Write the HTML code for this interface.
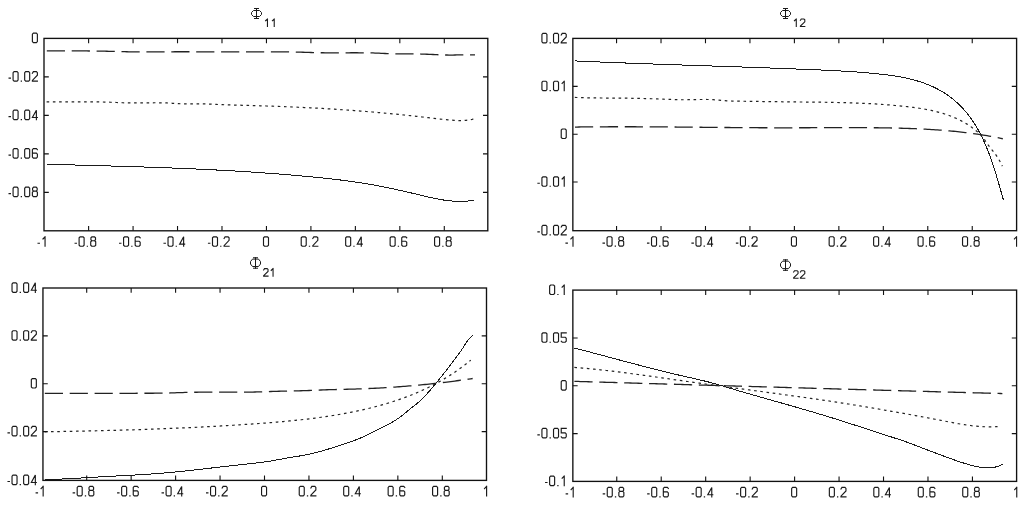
<!DOCTYPE html><html><head><meta charset="utf-8"><title>Phi plots</title><style>html,body{margin:0;padding:0;background:#fff;overflow:hidden;}svg{display:block;}</style></head><body>
<svg width="1024" height="508" viewBox="0 0 1024 508">
<rect x="0" y="0" width="1024" height="508" fill="#fff"/>
<path d="M46.8 50.91L48.8 50.92L50.8 50.92L52.81 50.92L54.81 50.92L56.81 50.92L58.82 50.92L60.82 50.91L62.82 50.91L64.83 50.91L66.83 50.91L68.83 50.91L70.84 50.91L72.84 50.91L74.84 50.91L76.84 50.92L78.85 50.92L80.85 50.93L82.85 50.94L84.85 50.95L86.85 50.96L88.85 50.98L90.86 50.99L92.86 51.02L94.86 51.04L96.85 51.07L98.85 51.1L100.85 51.13L102.85 51.17L104.85 51.21L106.84 51.26L108.84 51.31L110.84 51.36L112.83 51.41L114.83 51.46L116.82 51.52L118.82 51.57L120.82 51.62L122.81 51.67L124.81 51.72L126.81 51.76L128.8 51.8L130.8 51.83L132.8 51.86L134.8 51.88L136.8 51.89L138.8 51.9L140.81 51.9L142.81 51.9L144.81 51.89L146.82 51.89L148.82 51.88L150.82 51.87L152.83 51.86L154.83 51.84L156.84 51.83L158.84 51.82L160.84 51.81L162.85 51.81L164.85 51.8L166.85 51.79L168.86 51.79L170.86 51.78L172.86 51.78L174.87 51.77L176.87 51.77L178.87 51.77L180.88 51.77L182.88 51.77L184.88 51.77L186.88 51.77L188.89 51.77L190.89 51.77L192.89 51.77L194.9 51.78L196.9 51.78L198.9 51.78L200.9 51.79L202.9 51.79L204.91 51.79L206.91 51.8L208.91 51.8L210.91 51.81L212.92 51.81L214.92 51.82L216.92 51.83L218.92 51.83L220.93 51.84L222.93 51.84L224.93 51.85L226.93 51.86L228.93 51.86L230.94 51.87L232.94 51.87L234.94 51.88L236.94 51.89L238.95 51.89L240.95 51.9L242.95 51.9L244.95 51.91L246.96 51.91L248.96 51.92L250.96 51.92L252.96 51.93L254.97 51.93L256.97 51.93L258.97 51.94L260.98 51.94L262.98 51.94L264.98 51.94L266.99 51.94L268.99 51.94L270.99 51.94L273 51.93L275 51.92L277 51.91L279.01 51.9L281.01 51.89L283.01 51.89L285.02 51.88L287.02 51.89L289.02 51.91L291.02 51.94L293.02 51.98L295.02 52.02L297.02 52.08L299.02 52.13L301.01 52.2L303.01 52.26L305.01 52.33L307 52.4L309 52.46L311 52.52L313 52.58L315 52.63L316.99 52.68L318.99 52.72L321 52.75L323 52.77L325 52.79L327 52.81L329 52.82L331 52.82L333.01 52.82L335.01 52.82L337.01 52.82L339.02 52.81L341.02 52.81L343.03 52.8L345.03 52.79L347.03 52.78L349.04 52.78L351.04 52.77L353.04 52.77L355.05 52.77L357.05 52.77L359.05 52.78L361.06 52.79L363.06 52.8L365.06 52.82L367.06 52.85L369.06 52.88L371.06 52.92L373.05 52.97L375.05 53.04L377.05 53.11L379.04 53.21L381.03 53.31L383.02 53.41L385.02 53.5L387.01 53.59L389 53.67L391 53.75L393 53.81L394.99 53.85L396.99 53.89L398.99 53.91L401 53.93L403 53.93L405 53.93L407.01 53.93L409.01 53.93L411.02 53.92L413.02 53.93L415.02 53.94L417.02 53.96L419.02 53.99L421.02 54.03L423.02 54.09L425.01 54.16L427.01 54.24L429 54.33L430.99 54.42L432.99 54.51L434.98 54.61L436.97 54.7L438.97 54.78L440.96 54.86L442.96 54.92L444.95 54.98L446.95 55.02L448.95 55.04L450.95 55.04L452.96 55.03L454.96 55L456.97 54.97L458.98 54.93L460.98 54.89L462.99 54.85L464.99 54.83L467 54.81L469 54.82L471 54.84L473 54.88L474.99 54.96" fill="none" stroke="#222" stroke-width="1.3" stroke-dasharray="18.2 6.7"/>
<path d="M46.61 101.8L48.61 101.83L50.61 101.86L52.61 101.88L54.61 101.9L56.61 101.91L58.61 101.91L60.62 101.91L62.62 101.91L64.63 101.9L66.63 101.89L68.64 101.88L70.65 101.87L72.65 101.85L74.66 101.84L76.67 101.82L78.67 101.81L80.68 101.8L82.69 101.79L84.69 101.79L86.7 101.79L88.7 101.79L90.7 101.8L92.7 101.81L94.7 101.83L96.7 101.86L98.7 101.89L100.69 101.93L102.68 101.98L104.67 102.04L106.66 102.11L108.65 102.19L110.64 102.27L112.62 102.35L114.61 102.43L116.6 102.51L118.58 102.59L120.57 102.67L122.56 102.74L124.55 102.8L126.54 102.85L128.54 102.89L130.54 102.92L132.54 102.93L134.54 102.94L136.55 102.93L138.56 102.92L140.56 102.9L142.57 102.88L144.58 102.86L146.59 102.84L148.6 102.81L150.61 102.79L152.62 102.78L154.63 102.77L156.63 102.77L158.63 102.78L160.63 102.8L162.63 102.84L164.62 102.89L166.61 102.96L168.6 103.05L170.58 103.15L172.55 103.28L174.52 103.41L176.5 103.54L178.47 103.66L180.46 103.76L182.44 103.84L184.44 103.89L186.43 103.92L188.43 103.93L190.44 103.93L192.45 103.93L194.45 103.91L196.46 103.9L198.47 103.89L200.47 103.89L202.48 103.91L204.48 103.93L206.47 103.98L208.46 104.04L210.45 104.12L212.43 104.22L214.42 104.31L216.4 104.41L218.38 104.51L220.36 104.6L222.35 104.68L224.33 104.76L226.32 104.82L228.31 104.88L230.3 104.94L232.3 105L234.29 105.05L236.29 105.11L238.29 105.17L240.29 105.22L242.29 105.28L244.29 105.34L246.29 105.39L248.3 105.45L250.3 105.51L252.31 105.57L254.31 105.63L256.32 105.69L258.32 105.75L260.33 105.81L262.33 105.88L264.33 105.94L266.34 106.01L268.34 106.07L270.34 106.14L272.35 106.21L274.35 106.28L276.35 106.36L278.36 106.43L280.36 106.5L282.36 106.58L284.36 106.66L286.37 106.74L288.37 106.82L290.37 106.9L292.37 106.98L294.37 107.07L296.38 107.16L298.38 107.25L300.38 107.34L302.38 107.43L304.38 107.53L306.38 107.62L308.38 107.72L310.38 107.82L312.39 107.93L314.39 108.03L316.39 108.14L318.39 108.25L320.39 108.36L322.39 108.47L324.39 108.59L326.39 108.71L328.39 108.83L330.39 108.95L332.39 109.08L334.39 109.2L336.39 109.33L338.39 109.46L340.39 109.59L342.39 109.73L344.39 109.87L346.39 110.01L348.39 110.15L350.38 110.29L352.38 110.44L354.38 110.59L356.38 110.74L358.38 110.89L360.38 111.04L362.37 111.2L364.37 111.36L366.37 111.52L368.37 111.68L370.36 111.85L372.36 112.01L374.36 112.18L376.35 112.36L378.35 112.53L380.35 112.71L382.34 112.89L384.34 113.07L386.33 113.25L388.33 113.44L390.32 113.63L392.32 113.82L394.31 114.01L396.31 114.21L398.3 114.4L400.29 114.6L402.29 114.81L404.28 115.01L406.27 115.22L408.27 115.43L410.26 115.65L412.25 115.86L414.24 116.08L416.24 116.31L418.23 116.53L420.22 116.76L422.21 116.99L424.2 117.22L426.19 117.45L428.18 117.69L430.18 117.92L432.17 118.15L434.16 118.38L436.15 118.6L438.14 118.82L440.13 119.04L442.12 119.25L444.12 119.46L446.11 119.65L448.1 119.84L450.1 120.02L452.09 120.19L454.09 120.34L456.08 120.45L458.07 120.53L460.07 120.56L462.06 120.54L464.06 120.46L466.05 120.3L468.04 120.07L470.03 119.75L472.02 119.33L474 118.82" fill="none" stroke="#222" stroke-width="1.2" stroke-dasharray="2.6 3.65"/>
<path d="M46.7 164.21L48.7 164.27L50.7 164.33L52.7 164.38L54.7 164.44L56.71 164.5L58.71 164.55L60.71 164.61L62.71 164.67L64.71 164.72L66.71 164.78L68.71 164.83L70.71 164.89L72.71 164.94L74.72 165L76.72 165.05L78.72 165.11L80.72 165.16L82.72 165.22L84.72 165.27L86.72 165.33L88.73 165.38L90.73 165.44L92.73 165.49L94.73 165.55L96.73 165.61L98.73 165.66L100.74 165.72L102.74 165.77L104.74 165.83L106.74 165.89L108.74 165.94L110.74 166L112.75 166.06L114.75 166.12L116.75 166.18L118.75 166.23L120.75 166.29L122.76 166.35L124.76 166.41L126.76 166.47L128.76 166.54L130.76 166.6L132.76 166.66L134.77 166.72L136.77 166.78L138.77 166.85L140.77 166.91L142.77 166.98L144.78 167.04L146.78 167.11L148.78 167.18L150.78 167.24L152.78 167.31L154.78 167.38L156.79 167.45L158.79 167.52L160.79 167.6L162.79 167.67L164.79 167.74L166.79 167.82L168.79 167.89L170.8 167.97L172.8 168.04L174.8 168.12L176.8 168.2L178.8 168.28L180.8 168.36L182.8 168.44L184.8 168.53L186.8 168.61L188.8 168.7L190.81 168.78L192.81 168.87L194.81 168.96L196.81 169.05L198.81 169.14L200.81 169.23L202.81 169.33L204.81 169.42L206.81 169.52L208.81 169.61L210.81 169.71L212.81 169.81L214.81 169.91L216.81 170.02L218.81 170.12L220.81 170.23L222.81 170.33L224.81 170.44L226.81 170.55L228.81 170.67L230.81 170.78L232.8 170.89L234.8 171.01L236.8 171.13L238.8 171.25L240.8 171.37L242.8 171.49L244.8 171.62L246.8 171.74L248.79 171.87L250.79 172L252.79 172.13L254.79 172.27L256.79 172.4L258.78 172.54L260.78 172.68L262.78 172.82L264.78 172.96L266.77 173.1L268.77 173.25L270.77 173.4L272.76 173.55L274.76 173.7L276.76 173.86L278.75 174.01L280.75 174.17L282.74 174.33L284.74 174.49L286.74 174.66L288.73 174.82L290.73 174.99L292.72 175.16L294.72 175.33L296.71 175.51L298.71 175.68L300.7 175.86L302.7 176.04L304.69 176.22L306.69 176.41L308.68 176.6L310.68 176.79L312.67 176.98L314.66 177.17L316.66 177.37L318.65 177.57L320.64 177.77L322.63 177.98L324.63 178.19L326.62 178.4L328.61 178.62L330.6 178.84L332.59 179.06L334.58 179.29L336.57 179.53L338.55 179.77L340.54 180.01L342.53 180.26L344.51 180.52L346.5 180.78L348.48 181.04L350.47 181.32L352.45 181.59L354.43 181.88L356.41 182.17L358.39 182.47L360.37 182.77L362.34 183.08L364.32 183.4L366.29 183.73L368.27 184.06L370.24 184.4L372.21 184.75L374.18 185.11L376.15 185.47L378.12 185.84L380.08 186.22L382.05 186.6L384.01 186.99L385.97 187.39L387.94 187.79L389.9 188.2L391.86 188.61L393.82 189.03L395.77 189.46L397.73 189.88L399.69 190.32L401.65 190.75L403.6 191.2L405.55 191.64L407.51 192.09L409.46 192.54L411.41 193L413.37 193.46L415.32 193.92L417.27 194.39L419.22 194.86L421.17 195.32L423.12 195.79L425.07 196.25L427.02 196.71L428.97 197.16L430.92 197.6L432.87 198.02L434.82 198.43L436.78 198.82L438.73 199.2L440.69 199.55L442.64 199.87L444.6 200.18L446.56 200.45L448.53 200.69L450.49 200.9L452.46 201.08L454.43 201.22L456.4 201.32L458.38 201.38L460.36 201.39L462.34 201.36L464.33 201.28L466.32 201.16L468.31 200.97L470.31 200.74L472.31 200.45L474.31 200.1" fill="none" stroke="#1a1a1a" stroke-width="1.0" shape-rendering="crispEdges"/>
<rect x="44" y="38.4" width="443.8" height="192.4" fill="none" stroke="#111" stroke-width="1.35"/>
<path d="M88.61 230.8v-4.8M88.61 38.4v4.8M133.07 230.8v-4.8M133.07 38.4v4.8M177.53 230.8v-4.8M177.53 38.4v4.8M221.99 230.8v-4.8M221.99 38.4v4.8M266.45 230.8v-4.8M266.45 38.4v4.8M310.91 230.8v-4.8M310.91 38.4v4.8M355.37 230.8v-4.8M355.37 38.4v4.8M399.83 230.8v-4.8M399.83 38.4v4.8M444.29 230.8v-4.8M444.29 38.4v4.8M44 76.84h4.8M487.8 76.84h-4.8M44 115.36h4.8M487.8 115.36h-4.8M44 153.87h4.8M487.8 153.87h-4.8M44 192.39h4.8M487.8 192.39h-4.8" stroke="#111" stroke-width="1.1" fill="none"/>
<path d="M256.5 8V19M254 8.5H259M254 18.5H259M253.5 10.5L259.5 10.5L261.5 12.5L261.5 14.5L259.5 16.5L253.5 16.5L251.5 14.5L251.5 12.5Z" fill="none" stroke="#1a1a1a" stroke-width="1"/>
<path d="M267.45 19V26.56M267.45 19L265.6 20.76M274.23 19V26.56M274.23 19L272.38 20.76" fill="none" stroke="#1a1a1a" stroke-width="1.09" stroke-linecap="square"/>
<path d="M574.54 60.9L576.54 60.99L578.53 61.08L580.53 61.17L582.53 61.26L584.52 61.34L586.52 61.43L588.52 61.52L590.51 61.6L592.51 61.69L594.51 61.77L596.51 61.85L598.5 61.94L600.5 62.02L602.5 62.1L604.5 62.18L606.5 62.26L608.5 62.34L610.49 62.42L612.49 62.5L614.49 62.58L616.49 62.66L618.49 62.74L620.49 62.81L622.49 62.89L624.49 62.97L626.49 63.04L628.49 63.12L630.49 63.19L632.49 63.27L634.49 63.34L636.49 63.41L638.49 63.49L640.49 63.56L642.49 63.63L644.5 63.7L646.5 63.78L648.5 63.85L650.5 63.92L652.5 63.99L654.5 64.06L656.5 64.13L658.5 64.2L660.51 64.27L662.51 64.34L664.51 64.41L666.51 64.48L668.51 64.55L670.51 64.62L672.52 64.68L674.52 64.75L676.52 64.82L678.52 64.89L680.52 64.96L682.53 65.02L684.53 65.09L686.53 65.16L688.53 65.23L690.54 65.29L692.54 65.36L694.54 65.43L696.54 65.49L698.54 65.56L700.55 65.63L702.55 65.69L704.55 65.76L706.55 65.83L708.56 65.89L710.56 65.96L712.56 66.03L714.56 66.1L716.56 66.16L718.57 66.23L720.57 66.3L722.57 66.36L724.57 66.43L726.57 66.5L728.58 66.57L730.58 66.63L732.58 66.7L734.58 66.77L736.58 66.84L738.58 66.91L740.59 66.98L742.59 67.04L744.59 67.11L746.59 67.18L748.59 67.25L750.59 67.32L752.59 67.39L754.59 67.46L756.59 67.53L758.6 67.6L760.6 67.68L762.6 67.75L764.6 67.82L766.6 67.89L768.6 67.96L770.6 68.04L772.6 68.11L774.6 68.18L776.6 68.26L778.6 68.33L780.59 68.41L782.59 68.48L784.59 68.56L786.59 68.63L788.59 68.71L790.59 68.79L792.59 68.87L794.59 68.94L796.58 69.02L798.58 69.1L800.58 69.18L802.58 69.26L804.57 69.34L806.57 69.42L808.57 69.51L810.57 69.59L812.56 69.67L814.56 69.76L816.55 69.84L818.55 69.93L820.55 70.01L822.54 70.1L824.54 70.19L826.53 70.28L828.53 70.37L830.52 70.47L832.52 70.56L834.52 70.66L836.51 70.77L838.51 70.87L840.5 70.98L842.5 71.09L844.5 71.21L846.49 71.33L848.49 71.45L850.49 71.58L852.49 71.71L854.49 71.84L856.49 71.99L858.49 72.13L860.49 72.28L862.49 72.44L864.49 72.6L866.49 72.77L868.49 72.95L870.49 73.13L872.5 73.31L874.5 73.51L876.51 73.71L878.51 73.92L880.52 74.13L882.53 74.36L884.53 74.6L886.53 74.85L888.53 75.11L890.53 75.38L892.53 75.67L894.52 75.97L896.51 76.29L898.49 76.63L900.47 76.98L902.44 77.35L904.4 77.75L906.36 78.16L908.31 78.59L910.25 79.05L912.19 79.53L914.11 80.04L916.03 80.57L917.93 81.13L919.83 81.72L921.71 82.33L923.58 82.98L925.44 83.65L927.29 84.35L929.12 85.09L930.94 85.86L932.74 86.67L934.53 87.51L936.31 88.38L938.07 89.3L939.81 90.25L941.53 91.24L943.24 92.27L944.93 93.34L946.6 94.44L948.24 95.59L949.86 96.77L951.46 97.98L953.04 99.23L954.58 100.52L956.1 101.84L957.59 103.19L959.05 104.57L960.48 105.98L961.88 107.43L963.25 108.9L964.59 110.4L965.89 111.93L967.17 113.48L968.41 115.05L969.63 116.64L970.81 118.26L971.96 119.9L973.08 121.55L974.18 123.22L975.24 124.91L976.28 126.62L977.3 128.35L978.28 130.08L979.24 131.84L980.18 133.6L981.09 135.38L981.98 137.18L982.85 138.98L983.7 140.8L984.52 142.62L985.33 144.45L986.11 146.29L986.88 148.14L987.63 150L988.36 151.86L989.07 153.73L989.77 155.6L990.46 157.48L991.13 159.37L991.78 161.26L992.43 163.15L993.06 165.05L993.68 166.96L994.29 168.86L994.89 170.77L995.49 172.69L996.07 174.6L996.65 176.52L997.22 178.44L997.79 180.36L998.35 182.28L998.9 184.2L999.46 186.13L1000.01 188.05L1000.56 189.98L1001.11 191.9L1001.66 193.82L1002.2 195.74L1002.76 197.66L1003.31 199.58" fill="none" stroke="#1a1a1a" stroke-width="1.0" shape-rendering="crispEdges"/>
<path d="M574.82 97.43L576.82 97.5L578.82 97.56L580.82 97.62L582.82 97.67L584.83 97.72L586.84 97.77L588.84 97.81L590.85 97.84L592.86 97.88L594.87 97.91L596.88 97.93L598.89 97.96L600.9 97.98L602.91 98L604.92 98.02L606.93 98.03L608.94 98.05L610.95 98.06L612.96 98.08L614.98 98.1L616.99 98.11L619 98.13L621.01 98.14L623.02 98.16L625.02 98.18L627.03 98.21L629.04 98.23L631.05 98.26L633.05 98.29L635.05 98.33L637.06 98.36L639.06 98.41L641.06 98.45L643.06 98.5L645.06 98.55L647.05 98.61L649.05 98.67L651.05 98.73L653.04 98.79L655.03 98.86L657.02 98.93L659.01 99.01L661 99.08L662.99 99.16L664.98 99.24L666.96 99.32L668.95 99.4L670.94 99.47L672.93 99.54L674.92 99.6L676.91 99.65L678.9 99.7L680.9 99.73L682.9 99.75L684.91 99.75L686.92 99.74L688.93 99.72L690.95 99.68L692.96 99.64L694.98 99.6L697 99.55L699.02 99.52L701.04 99.49L703.05 99.47L705.06 99.47L707.07 99.48L709.07 99.52L711.07 99.59L713.05 99.68L715.03 99.81L717.01 99.97L718.98 100.15L720.95 100.33L722.91 100.51L724.89 100.67L726.87 100.8L728.86 100.91L730.86 100.98L732.86 101.04L734.86 101.09L736.87 101.13L738.88 101.16L740.89 101.19L742.9 101.22L744.91 101.26L746.91 101.29L748.92 101.32L750.93 101.35L752.94 101.38L754.95 101.41L756.96 101.44L758.97 101.47L760.98 101.5L762.99 101.53L765 101.56L767.01 101.59L769.02 101.62L771.03 101.64L773.04 101.67L775.05 101.7L777.06 101.72L779.07 101.75L781.08 101.77L783.09 101.8L785.1 101.82L787.11 101.84L789.12 101.86L791.13 101.89L793.14 101.91L795.15 101.93L797.15 101.95L799.16 101.97L801.17 101.99L803.18 102.01L805.19 102.03L807.2 102.05L809.2 102.07L811.21 102.09L813.22 102.11L815.22 102.14L817.23 102.16L819.24 102.19L821.25 102.21L823.25 102.24L825.26 102.27L827.26 102.3L829.27 102.34L831.28 102.37L833.28 102.41L835.29 102.45L837.29 102.49L839.3 102.54L841.3 102.59L843.31 102.64L845.32 102.69L847.32 102.75L849.33 102.81L851.33 102.87L853.33 102.94L855.34 103.01L857.34 103.09L859.35 103.17L861.35 103.25L863.36 103.34L865.36 103.43L867.37 103.53L869.37 103.63L871.37 103.74L873.38 103.85L875.38 103.97L877.39 104.1L879.39 104.23L881.39 104.36L883.4 104.5L885.4 104.65L887.41 104.8L889.41 104.96L891.41 105.13L893.42 105.3L895.42 105.48L897.42 105.66L899.43 105.86L901.43 106.06L903.43 106.27L905.44 106.48L907.44 106.7L909.44 106.94L911.44 107.18L913.44 107.43L915.44 107.7L917.44 107.98L919.43 108.28L921.41 108.59L923.4 108.92L925.37 109.27L927.35 109.63L929.31 110.02L931.27 110.43L933.23 110.86L935.17 111.32L937.11 111.8L939.04 112.31L940.96 112.84L942.87 113.41L944.77 114L946.66 114.63L948.54 115.28L950.41 115.97L952.26 116.7L954.1 117.46L955.93 118.26L957.75 119.09L959.55 119.97L961.34 120.88L963.11 121.84L964.86 122.83L966.6 123.88L968.32 124.96L970.01 126.09L971.68 127.26L973.31 128.47L974.9 129.71L976.44 131L977.93 132.33L979.37 133.69L980.75 135.09L982.06 136.53L983.31 138.03L984.49 139.6L985.6 141.23L986.7 142.9L987.85 144.54L989.05 146.15L990.28 147.73L991.54 149.31L992.8 150.88L994.04 152.46L995.26 154.05L996.43 155.67L997.54 157.33L998.6 159.02L999.61 160.74L1000.57 162.5L1001.49 164.29L1002.36 166.13" fill="none" stroke="#222" stroke-width="1.2" stroke-dasharray="2.6 3.65"/>
<path d="M574.97 127.05L576.98 127.03L578.99 127L580.99 126.97L583 126.95L585.01 126.93L587.02 126.91L589.02 126.89L591.03 126.87L593.04 126.86L595.05 126.84L597.05 126.83L599.06 126.81L601.06 126.8L603.07 126.79L605.08 126.78L607.08 126.78L609.09 126.77L611.09 126.76L613.1 126.76L615.1 126.75L617.11 126.75L619.11 126.75L621.11 126.75L623.12 126.75L625.12 126.75L627.13 126.75L629.13 126.76L631.13 126.76L633.14 126.77L635.14 126.77L637.14 126.78L639.15 126.79L641.15 126.79L643.15 126.8L645.16 126.81L647.16 126.82L649.16 126.83L651.16 126.84L653.17 126.86L655.17 126.87L657.17 126.88L659.17 126.89L661.18 126.91L663.18 126.92L665.18 126.94L667.18 126.95L669.18 126.97L671.18 126.99L673.19 127L675.19 127.02L677.19 127.04L679.19 127.05L681.19 127.07L683.19 127.09L685.2 127.11L687.2 127.13L689.2 127.15L691.2 127.17L693.2 127.18L695.2 127.2L697.2 127.22L699.2 127.24L701.21 127.26L703.21 127.28L705.21 127.3L707.21 127.32L709.21 127.34L711.21 127.36L713.21 127.38L715.21 127.4L717.22 127.41L719.22 127.43L721.22 127.45L723.22 127.47L725.22 127.49L727.22 127.51L729.22 127.52L731.23 127.54L733.23 127.56L735.23 127.57L737.23 127.59L739.23 127.6L741.23 127.62L743.24 127.63L745.24 127.65L747.24 127.66L749.24 127.67L751.24 127.69L753.25 127.7L755.25 127.71L757.25 127.72L759.25 127.73L761.26 127.74L763.26 127.75L765.26 127.76L767.26 127.76L769.27 127.77L771.27 127.78L773.27 127.78L775.28 127.79L777.28 127.79L779.29 127.79L781.29 127.79L783.29 127.79L785.3 127.79L787.3 127.79L789.31 127.79L791.31 127.78L793.32 127.78L795.32 127.78L797.32 127.77L799.33 127.76L801.34 127.76L803.34 127.75L805.35 127.74L807.35 127.73L809.36 127.73L811.36 127.72L813.37 127.71L815.37 127.7L817.38 127.69L819.39 127.68L821.39 127.68L823.4 127.67L825.4 127.66L827.41 127.65L829.41 127.64L831.42 127.64L833.43 127.63L835.43 127.63L837.44 127.62L839.44 127.62L841.45 127.61L843.46 127.61L845.46 127.61L847.47 127.61L849.47 127.61L851.48 127.61L853.48 127.62L855.49 127.62L857.49 127.63L859.5 127.63L861.51 127.64L863.51 127.65L865.52 127.66L867.52 127.68L869.52 127.69L871.53 127.71L873.53 127.73L875.54 127.75L877.54 127.77L879.55 127.8L881.55 127.83L883.55 127.86L885.56 127.89L887.56 127.92L889.56 127.96L891.57 128L893.57 128.04L895.57 128.09L897.57 128.13L899.58 128.18L901.58 128.24L903.58 128.29L905.58 128.36L907.58 128.42L909.58 128.49L911.58 128.56L913.58 128.64L915.58 128.72L917.58 128.8L919.58 128.89L921.57 128.99L923.57 129.09L925.57 129.19L927.56 129.3L929.56 129.42L931.55 129.54L933.55 129.66L935.54 129.79L937.54 129.93L939.53 130.07L941.52 130.22L943.51 130.38L945.5 130.54L947.49 130.71L949.48 130.89L951.47 131.07L953.45 131.26L955.44 131.46L957.43 131.66L959.41 131.87L961.39 132.09L963.38 132.32L965.36 132.56L967.34 132.8L969.32 133.05L971.3 133.31L973.28 133.58L975.25 133.86L977.23 134.15L979.2 134.44L981.18 134.75L983.15 135.06L985.12 135.38L987.09 135.72L989.06 136.06L991.03 136.41L992.99 136.77L994.96 137.15L996.92 137.53L998.89 137.92L1000.85 138.33L1002.81 138.74" fill="none" stroke="#222" stroke-width="1.3" stroke-dasharray="18.2 6.7"/>
<rect x="572.85" y="38.4" width="443.75" height="192.3" fill="none" stroke="#111" stroke-width="1.35"/>
<path d="M616.56 230.7v-4.8M616.56 38.4v4.8M661.02 230.7v-4.8M661.02 38.4v4.8M705.48 230.7v-4.8M705.48 38.4v4.8M749.94 230.7v-4.8M749.94 38.4v4.8M794.4 230.7v-4.8M794.4 38.4v4.8M838.86 230.7v-4.8M838.86 38.4v4.8M883.32 230.7v-4.8M883.32 38.4v4.8M927.78 230.7v-4.8M927.78 38.4v4.8M972.24 230.7v-4.8M972.24 38.4v4.8M572.85 86.4h4.8M1016.6 86.4h-4.8M572.85 134.2h4.8M1016.6 134.2h-4.8M572.85 182h4.8M1016.6 182h-4.8" stroke="#111" stroke-width="1.1" fill="none"/>
<path d="M785.5 8V19M783 8.5H788M783 18.5H788M782.5 10.5L788.5 10.5L790.5 12.5L790.5 14.5L788.5 16.5L782.5 16.5L780.5 14.5L780.5 12.5Z" fill="none" stroke="#1a1a1a" stroke-width="1"/>
<path d="M796.28 19V26.56M796.28 19L794.43 20.76M800.41 20.34L801.29 19H803.93L804.81 19.84V21.86L800.41 26.06V26.56H804.81" fill="none" stroke="#1a1a1a" stroke-width="1.09" stroke-linecap="square"/>
<path d="M44.8 393.32L46.81 393.31L48.81 393.31L50.81 393.31L52.81 393.3L54.82 393.3L56.82 393.3L58.82 393.3L60.83 393.29L62.83 393.29L64.83 393.29L66.84 393.29L68.84 393.29L70.84 393.29L72.85 393.29L74.85 393.29L76.85 393.29L78.86 393.29L80.86 393.29L82.86 393.29L84.87 393.29L86.87 393.29L88.87 393.29L90.88 393.29L92.88 393.29L94.89 393.29L96.89 393.29L98.89 393.29L100.9 393.29L102.9 393.3L104.91 393.3L106.91 393.3L108.91 393.3L110.92 393.3L112.92 393.29L114.93 393.29L116.93 393.29L118.93 393.29L120.94 393.29L122.94 393.29L124.94 393.29L126.95 393.29L128.95 393.29L130.95 393.28L132.96 393.28L134.96 393.28L136.96 393.27L138.97 393.27L140.97 393.27L142.97 393.26L144.98 393.26L146.98 393.25L148.98 393.25L150.99 393.24L152.99 393.23L154.99 393.22L156.99 393.21L158.99 393.19L160.99 393.17L162.99 393.13L164.98 393.1L166.97 393.05L168.96 392.99L170.95 392.92L172.94 392.85L174.93 392.78L176.92 392.72L178.9 392.65L180.89 392.59L182.88 392.53L184.88 392.47L186.87 392.42L188.86 392.38L190.86 392.33L192.85 392.29L194.85 392.26L196.84 392.23L198.84 392.2L200.84 392.18L202.84 392.17L204.85 392.15L206.85 392.15L208.85 392.14L210.86 392.14L212.86 392.14L214.87 392.14L216.88 392.15L218.88 392.16L220.89 392.16L222.9 392.17L224.9 392.18L226.91 392.18L228.91 392.19L230.92 392.19L232.92 392.19L234.93 392.19L236.93 392.19L238.93 392.18L240.93 392.17L242.94 392.16L244.94 392.14L246.94 392.12L248.94 392.1L250.94 392.07L252.95 392.03L254.95 391.99L256.95 391.94L258.95 391.89L260.95 391.83L262.96 391.77L264.96 391.71L266.96 391.64L268.96 391.58L270.97 391.51L272.97 391.44L274.97 391.38L276.97 391.31L278.98 391.25L280.98 391.19L282.98 391.14L284.98 391.08L286.99 391.04L288.99 390.99L290.99 390.95L292.99 390.91L294.99 390.87L296.99 390.83L299 390.79L301 390.75L303 390.7L305 390.65L307 390.59L309 390.52L311 390.45L312.99 390.37L314.99 390.28L316.99 390.19L318.99 390.1L320.99 390L322.98 389.91L324.98 389.83L326.98 389.76L328.98 389.69L330.99 389.63L332.99 389.58L334.99 389.54L336.99 389.49L339 389.45L341 389.4L343 389.36L345 389.31L347.01 389.26L349.01 389.21L351.01 389.15L353.01 389.1L355.02 389.04L357.02 388.97L359.02 388.9L361.02 388.83L363.02 388.76L365.02 388.68L367.03 388.6L369.03 388.51L371.03 388.42L373.03 388.33L375.03 388.23L377.03 388.13L379.03 388.03L381.03 387.92L383.03 387.8L385.03 387.68L387.03 387.56L389.03 387.44L391.03 387.31L393.03 387.17L395.03 387.04L397.03 386.89L399.03 386.75L401.03 386.6L403.02 386.44L405.02 386.29L407.02 386.12L409.02 385.96L411.01 385.79L413.01 385.61L415 385.44L417 385.25L418.99 385.07L420.99 384.88L422.98 384.68L424.98 384.49L426.97 384.28L428.96 384.08L430.96 383.87L432.95 383.65L434.94 383.43L436.93 383.21L438.92 382.98L440.91 382.75L442.9 382.52L444.89 382.28L446.87 382.04L448.86 381.79L450.85 381.54L452.84 381.28L454.82 381.03L456.81 380.76L458.79 380.49L460.77 380.22L462.76 379.95L464.74 379.67L466.72 379.38L468.7 379.1L470.68 378.8L472.66 378.51" fill="none" stroke="#222" stroke-width="1.3" stroke-dasharray="18.2 6.7"/>
<path d="M44.75 431.8L46.77 431.77L48.78 431.73L50.79 431.7L52.81 431.66L54.82 431.63L56.83 431.59L58.84 431.56L60.85 431.52L62.86 431.48L64.87 431.44L66.88 431.41L68.89 431.37L70.9 431.33L72.9 431.29L74.91 431.25L76.92 431.21L78.93 431.17L80.93 431.12L82.94 431.08L84.95 431.04L86.95 430.99L88.96 430.95L90.96 430.9L92.97 430.86L94.97 430.81L96.98 430.77L98.98 430.72L100.98 430.67L102.99 430.62L104.99 430.57L107 430.52L109 430.47L111 430.41L113 430.36L115.01 430.31L117.01 430.25L119.01 430.2L121.01 430.14L123.02 430.08L125.02 430.03L127.02 429.97L129.02 429.91L131.02 429.85L133.02 429.78L135.02 429.72L137.02 429.66L139.02 429.59L141.02 429.53L143.03 429.46L145.03 429.39L147.03 429.32L149.03 429.25L151.03 429.18L153.03 429.11L155.03 429.04L157.03 428.97L159.03 428.89L161.03 428.81L163.03 428.74L165.03 428.66L167.03 428.58L169.03 428.5L171.03 428.42L173.03 428.33L175.03 428.25L177.03 428.17L179.03 428.08L181.03 427.99L183.03 427.9L185.03 427.81L187.03 427.72L189.03 427.63L191.03 427.53L193.03 427.44L195.03 427.34L197.03 427.24L199.03 427.15L201.03 427.04L203.03 426.94L205.03 426.84L207.03 426.73L209.04 426.63L211.04 426.52L213.04 426.41L215.04 426.3L217.04 426.19L219.04 426.08L221.05 425.96L223.05 425.85L225.05 425.73L227.06 425.61L229.06 425.49L231.06 425.37L233.07 425.24L235.07 425.12L237.07 424.99L239.08 424.86L241.08 424.73L243.09 424.6L245.09 424.46L247.1 424.33L249.1 424.19L251.11 424.05L253.12 423.91L255.12 423.77L257.13 423.63L259.14 423.48L261.15 423.33L263.15 423.19L265.16 423.03L267.17 422.88L269.18 422.72L271.18 422.56L273.19 422.4L275.2 422.23L277.2 422.06L279.21 421.89L281.22 421.71L283.22 421.54L285.23 421.35L287.23 421.16L289.24 420.97L291.24 420.78L293.25 420.58L295.25 420.38L297.25 420.17L299.25 419.95L301.25 419.74L303.25 419.51L305.25 419.28L307.25 419.05L309.24 418.81L311.24 418.57L313.23 418.32L315.22 418.06L317.21 417.8L319.2 417.53L321.19 417.26L323.18 416.98L325.17 416.69L327.15 416.4L329.13 416.1L331.11 415.79L333.09 415.48L335.07 415.16L337.05 414.83L339.02 414.5L340.99 414.15L342.96 413.8L344.93 413.44L346.9 413.07L348.86 412.7L350.82 412.32L352.78 411.92L354.74 411.52L356.7 411.12L358.65 410.7L360.6 410.27L362.55 409.84L364.49 409.39L366.44 408.94L368.38 408.47L370.32 408L372.25 407.51L374.18 407.02L376.11 406.52L378.04 406L379.96 405.48L381.87 404.94L383.79 404.39L385.7 403.83L387.61 403.26L389.51 402.68L391.41 402.09L393.3 401.48L395.19 400.86L397.08 400.23L398.96 399.59L400.84 398.93L402.71 398.27L404.58 397.58L406.44 396.89L408.3 396.18L410.15 395.46L412 394.72L413.84 393.97L415.68 393.21L417.51 392.43L419.33 391.63L421.15 390.83L422.96 390L424.77 389.16L426.57 388.31L428.36 387.44L430.15 386.55L431.93 385.65L433.7 384.74L435.47 383.8L437.23 382.85L438.99 381.89L440.73 380.9L442.47 379.9L444.2 378.88L445.93 377.85L447.64 376.79L449.35 375.72L451.05 374.63L452.75 373.53L454.43 372.4L456.11 371.26L457.78 370.1L459.44 368.91L461.09 367.71L462.73 366.49L464.37 365.25L465.99 364L467.61 362.72L469.22 361.42L470.82 360.1" fill="none" stroke="#222" stroke-width="1.2" stroke-dasharray="2.6 3.65"/>
<path d="M44.7 479.52L46.71 479.48L48.71 479.44L50.71 479.39L52.72 479.33L54.72 479.27L56.72 479.2L58.73 479.13L60.73 479.05L62.73 478.96L64.73 478.87L66.73 478.78L68.74 478.68L70.74 478.58L72.74 478.48L74.74 478.37L76.74 478.26L78.74 478.15L80.74 478.03L82.74 477.91L84.75 477.8L86.75 477.68L88.75 477.56L90.75 477.44L92.75 477.32L94.75 477.2L96.75 477.08L98.75 476.96L100.76 476.84L102.76 476.73L104.76 476.61L106.76 476.5L108.76 476.39L110.77 476.28L112.77 476.17L114.77 476.07L116.78 475.96L118.78 475.86L120.78 475.75L122.78 475.65L124.79 475.54L126.79 475.44L128.79 475.33L130.8 475.22L132.8 475.11L134.8 475L136.8 474.89L138.81 474.77L140.81 474.65L142.81 474.53L144.81 474.41L146.81 474.28L148.81 474.15L150.81 474.01L152.81 473.87L154.81 473.73L156.81 473.58L158.81 473.43L160.81 473.27L162.81 473.1L164.8 472.93L166.8 472.76L168.8 472.58L170.79 472.4L172.79 472.21L174.78 472.02L176.78 471.82L178.77 471.62L180.77 471.42L182.76 471.21L184.75 471L186.75 470.79L188.74 470.58L190.73 470.36L192.73 470.14L194.72 469.92L196.71 469.7L198.7 469.47L200.7 469.24L202.69 469.02L204.68 468.79L206.67 468.56L208.66 468.33L210.66 468.1L212.65 467.87L214.64 467.64L216.63 467.4L218.62 467.17L220.61 466.94L222.61 466.72L224.6 466.49L226.59 466.26L228.58 466.03L230.58 465.81L232.57 465.58L234.56 465.36L236.55 465.13L238.55 464.91L240.54 464.69L242.53 464.47L244.52 464.25L246.52 464.03L248.51 463.81L250.5 463.59L252.49 463.37L254.48 463.15L256.48 462.92L258.47 462.69L260.45 462.44L262.44 462.19L264.43 461.93L266.41 461.65L268.39 461.36L270.37 461.05L272.35 460.73L274.32 460.38L276.29 460.02L278.26 459.65L280.23 459.28L282.2 458.9L284.17 458.52L286.14 458.15L288.11 457.79L290.09 457.45L292.06 457.13L294.04 456.83L296.02 456.53L298 456.24L299.98 455.93L301.95 455.62L303.92 455.28L305.88 454.92L307.84 454.53L309.79 454.1L311.74 453.66L313.68 453.19L315.61 452.7L317.54 452.19L319.47 451.66L321.39 451.12L323.32 450.56L325.23 450L327.15 449.42L329.07 448.84L330.98 448.25L332.89 447.67L334.8 447.08L336.71 446.48L338.62 445.88L340.52 445.27L342.42 444.65L344.32 444.03L346.21 443.39L348.1 442.73L349.99 442.07L351.86 441.39L353.74 440.69L355.6 439.97L357.46 439.24L359.31 438.48L361.15 437.7L362.99 436.9L364.82 436.08L366.64 435.25L368.46 434.39L370.27 433.53L372.07 432.65L373.87 431.76L375.67 430.86L377.46 429.95L379.25 429.04L381.03 428.12L382.82 427.19L384.6 426.27L386.37 425.34L388.14 424.4L389.9 423.45L391.65 422.47L393.37 421.47L395.07 420.43L396.74 419.36L398.39 418.24L400.01 417.09L401.6 415.9L403.17 414.67L404.72 413.4L406.26 412.12L407.8 410.84L409.35 409.57L410.93 408.32L412.52 407.09L414.12 405.87L415.68 404.61L417.22 403.33L418.72 402.01L420.2 400.66L421.64 399.29L423.06 397.89L424.46 396.46L425.83 395.01L427.18 393.55L428.52 392.06L429.84 390.56L431.14 389.04L432.44 387.52L433.72 385.98L434.99 384.43L436.26 382.88L437.53 381.33L438.79 379.77L440.05 378.21L441.3 376.65L442.55 375.08L443.8 373.51L445.04 371.94L446.28 370.37L447.52 368.79L448.75 367.21L449.97 365.62L451.19 364.03L452.41 362.44L453.62 360.84L454.82 359.24L456.01 357.63L457.2 356.02L458.38 354.4L459.55 352.77L460.7 351.13L461.83 349.48L462.95 347.82L464.04 346.15L465.12 344.46L466.21 342.79L467.35 341.16L468.55 339.58L469.86 338.08L471.31 336.68L472.91 335.41" fill="none" stroke="#1a1a1a" stroke-width="1.0" shape-rendering="crispEdges"/>
<rect x="42.95" y="288" width="443.55" height="192.4" fill="none" stroke="#111" stroke-width="1.35"/>
<path d="M86.7 480.4v-4.8M86.7 288v4.8M131.15 480.4v-4.8M131.15 288v4.8M175.6 480.4v-4.8M175.6 288v4.8M220.05 480.4v-4.8M220.05 288v4.8M264.5 480.4v-4.8M264.5 288v4.8M308.95 480.4v-4.8M308.95 288v4.8M353.4 480.4v-4.8M353.4 288v4.8M397.85 480.4v-4.8M397.85 288v4.8M442.3 480.4v-4.8M442.3 288v4.8M42.95 335.9h4.8M486.5 335.9h-4.8M42.95 383.75h4.8M486.5 383.75h-4.8M42.95 431.6h4.8M486.5 431.6h-4.8" stroke="#111" stroke-width="1.1" fill="none"/>
<path d="M255.5 257.25V268.7M253 257.75H258M253 268.2H258M252.5 259.1L258.5 259.1L260.5 261.57L260.5 264.03L258.5 266.5L252.5 266.5L250.5 264.03L250.5 261.57Z" fill="none" stroke="#1a1a1a" stroke-width="1"/>
<path d="M263.63 269.94L264.51 268.6H267.15L268.03 269.44V271.46L263.63 275.66V276.16H268.03M273.05 268.6V276.16M273.05 268.6L271.2 270.36" fill="none" stroke="#1a1a1a" stroke-width="1.09" stroke-linecap="square"/>
<path d="M574.39 348.03L576.33 348.53L578.27 349.04L580.21 349.54L582.15 350.05L584.08 350.56L586.02 351.07L587.96 351.58L589.89 352.09L591.83 352.6L593.76 353.12L595.7 353.63L597.63 354.15L599.57 354.66L601.5 355.18L603.44 355.7L605.37 356.22L607.31 356.73L609.24 357.25L611.18 357.77L613.11 358.29L615.05 358.8L616.98 359.32L618.92 359.84L620.85 360.35L622.79 360.87L624.72 361.38L626.66 361.9L628.6 362.41L630.53 362.92L632.47 363.44L634.41 363.95L636.34 364.46L638.28 364.96L640.22 365.47L642.16 365.97L644.1 366.48L646.03 366.98L647.97 367.48L649.91 367.97L651.85 368.47L653.8 368.96L655.74 369.45L657.68 369.94L659.62 370.43L661.57 370.91L663.51 371.39L665.45 371.87L667.4 372.34L669.35 372.82L671.29 373.29L673.24 373.75L675.19 374.21L677.14 374.67L679.09 375.13L681.04 375.58L682.99 376.03L684.95 376.48L686.9 376.92L688.85 377.36L690.81 377.8L692.76 378.25L694.71 378.69L696.67 379.14L698.62 379.59L700.57 380.05L702.51 380.52L704.46 381L706.4 381.48L708.34 381.98L710.27 382.49L712.2 383L714.13 383.53L716.06 384.07L717.98 384.62L719.91 385.18L721.83 385.74L723.75 386.31L725.67 386.88L727.58 387.45L729.5 388.03L731.42 388.61L733.33 389.19L735.25 389.76L737.17 390.34L739.09 390.91L741.01 391.48L742.93 392.04L744.85 392.6L746.78 393.17L748.7 393.72L750.62 394.28L752.55 394.83L754.47 395.38L756.4 395.93L758.33 396.48L760.25 397.03L762.18 397.58L764.11 398.12L766.04 398.67L767.97 399.21L769.89 399.75L771.82 400.3L773.75 400.84L775.68 401.38L777.61 401.92L779.53 402.47L781.46 403.01L783.39 403.56L785.32 404.1L787.24 404.65L789.17 405.2L791.1 405.74L793.02 406.3L794.95 406.85L796.87 407.4L798.79 407.96L800.72 408.51L802.64 409.07L804.56 409.63L806.48 410.19L808.41 410.75L810.33 411.32L812.25 411.89L814.17 412.46L816.08 413.03L818 413.6L819.92 414.17L821.84 414.75L823.75 415.33L825.67 415.91L827.58 416.5L829.5 417.08L831.41 417.67L833.32 418.26L835.24 418.86L837.15 419.46L839.06 420.06L840.97 420.66L842.88 421.26L844.78 421.87L846.69 422.48L848.6 423.09L850.5 423.71L852.41 424.32L854.32 424.94L856.22 425.56L858.13 426.18L860.03 426.8L861.93 427.42L863.84 428.04L865.74 428.66L867.65 429.29L869.55 429.91L871.45 430.53L873.36 431.15L875.26 431.77L877.17 432.4L879.07 433.02L880.97 433.63L882.88 434.25L884.78 434.87L886.69 435.48L888.59 436.1L890.5 436.71L892.41 437.31L894.32 437.92L896.22 438.53L898.13 439.14L900.03 439.77L901.93 440.4L903.82 441.05L905.71 441.72L907.59 442.4L909.46 443.1L911.33 443.81L913.2 444.53L915.07 445.25L916.94 445.98L918.8 446.7L920.67 447.42L922.54 448.13L924.41 448.85L926.28 449.56L928.15 450.27L930.02 450.97L931.89 451.68L933.76 452.38L935.64 453.08L937.51 453.78L939.39 454.48L941.27 455.18L943.14 455.87L945.02 456.57L946.9 457.26L948.78 457.95L950.67 458.64L952.56 459.32L954.45 459.99L956.34 460.65L958.24 461.3L960.14 461.93L962.05 462.56L963.97 463.16L965.89 463.75L967.82 464.32L969.75 464.87L971.7 465.4L973.65 465.9L975.6 466.36L977.56 466.79L979.53 467.16L981.5 467.47L983.46 467.7L985.43 467.86L987.4 467.92L989.36 467.89L991.31 467.75L993.26 467.49L995.2 467.1L997.14 466.58L999.06 465.91L1000.97 465.08L1002.86 464.09" fill="none" stroke="#1a1a1a" stroke-width="1.0" shape-rendering="crispEdges"/>
<path d="M574.38 367.37L576.38 367.53L578.37 367.69L580.37 367.86L582.37 368.04L584.36 368.22L586.36 368.41L588.35 368.6L590.35 368.79L592.34 368.99L594.33 369.2L596.33 369.4L598.32 369.62L600.31 369.83L602.3 370.05L604.29 370.27L606.28 370.5L608.27 370.73L610.26 370.97L612.25 371.2L614.24 371.44L616.22 371.69L618.21 371.93L620.2 372.18L622.19 372.43L624.17 372.69L626.16 372.95L628.15 373.2L630.13 373.47L632.12 373.73L634.1 374L636.09 374.26L638.07 374.53L640.06 374.8L642.04 375.08L644.02 375.35L646.01 375.63L647.99 375.9L649.98 376.18L651.96 376.46L653.94 376.74L655.93 377.02L657.91 377.3L659.89 377.58L661.88 377.87L663.86 378.15L665.84 378.43L667.83 378.71L669.81 379L671.79 379.28L673.78 379.56L675.76 379.85L677.74 380.13L679.73 380.41L681.71 380.69L683.7 380.97L685.68 381.25L687.66 381.53L689.65 381.8L691.63 382.08L693.62 382.36L695.6 382.63L697.58 382.91L699.57 383.18L701.55 383.46L703.54 383.73L705.52 384L707.51 384.27L709.49 384.55L711.48 384.82L713.46 385.09L715.45 385.36L717.43 385.63L719.42 385.9L721.4 386.17L723.39 386.44L725.37 386.71L727.36 386.97L729.34 387.24L731.33 387.51L733.32 387.78L735.3 388.05L737.29 388.31L739.27 388.58L741.26 388.85L743.24 389.12L745.23 389.38L747.21 389.65L749.2 389.92L751.18 390.19L753.17 390.45L755.15 390.72L757.14 390.99L759.12 391.26L761.11 391.52L763.09 391.79L765.08 392.06L767.06 392.33L769.05 392.6L771.03 392.87L773.02 393.14L775 393.41L776.99 393.68L778.97 393.95L780.96 394.22L782.94 394.49L784.93 394.76L786.91 395.03L788.89 395.3L790.88 395.58L792.86 395.85L794.85 396.12L796.83 396.4L798.81 396.67L800.8 396.95L802.78 397.23L804.76 397.51L806.74 397.79L808.73 398.07L810.71 398.35L812.69 398.63L814.67 398.92L816.65 399.2L818.64 399.49L820.62 399.78L822.6 400.07L824.58 400.36L826.56 400.66L828.54 400.95L830.51 401.25L832.49 401.55L834.47 401.85L836.45 402.15L838.43 402.46L840.4 402.76L842.38 403.07L844.36 403.38L846.33 403.7L848.31 404.01L850.28 404.33L852.26 404.65L854.23 404.97L856.2 405.29L858.18 405.62L860.15 405.94L862.12 406.27L864.1 406.6L866.07 406.93L868.04 407.26L870.01 407.59L871.99 407.92L873.96 408.26L875.93 408.6L877.9 408.93L879.87 409.27L881.84 409.61L883.82 409.95L885.79 410.29L887.76 410.64L889.73 410.98L891.7 411.32L893.67 411.67L895.64 412.02L897.61 412.36L899.58 412.71L901.55 413.06L903.53 413.41L905.5 413.76L907.47 414.12L909.44 414.47L911.41 414.83L913.38 415.18L915.35 415.54L917.32 415.9L919.29 416.27L921.26 416.63L923.23 416.99L925.19 417.36L927.16 417.73L929.13 418.1L931.1 418.47L933.07 418.85L935.04 419.22L937 419.6L938.97 419.98L940.94 420.36L942.91 420.75L944.87 421.13L946.84 421.52L948.81 421.9L950.77 422.27L952.74 422.65L954.71 423.01L956.68 423.37L958.65 423.72L960.62 424.06L962.6 424.38L964.57 424.7L966.55 424.99L968.52 425.27L970.5 425.53L972.49 425.78L974.47 426L976.46 426.2L978.45 426.37L980.44 426.52L982.43 426.65L984.43 426.74L986.43 426.81L988.43 426.85L990.44 426.85L992.45 426.82L994.47 426.75L996.49 426.65L998.51 426.51L1000.54 426.33" fill="none" stroke="#222" stroke-width="1.2" stroke-dasharray="2.6 3.65"/>
<path d="M574.4 381.35L576.4 381.41L578.4 381.47L580.4 381.53L582.4 381.59L584.4 381.65L586.4 381.71L588.4 381.76L590.4 381.82L592.4 381.88L594.4 381.94L596.4 382L598.4 382.06L600.4 382.12L602.4 382.17L604.4 382.23L606.4 382.29L608.4 382.35L610.4 382.41L612.4 382.47L614.4 382.52L616.4 382.58L618.4 382.64L620.4 382.7L622.4 382.76L624.4 382.82L626.4 382.88L628.4 382.93L630.4 382.99L632.4 383.05L634.4 383.11L636.4 383.17L638.4 383.23L640.4 383.28L642.4 383.34L644.4 383.4L646.4 383.46L648.4 383.52L650.4 383.58L652.4 383.63L654.4 383.69L656.4 383.75L658.4 383.81L660.4 383.87L662.4 383.92L664.4 383.98L666.4 384.04L668.4 384.1L670.4 384.16L672.4 384.22L674.4 384.27L676.4 384.33L678.4 384.39L680.4 384.45L682.4 384.51L684.4 384.56L686.4 384.62L688.4 384.68L690.4 384.74L692.4 384.8L694.4 384.85L696.4 384.91L698.4 384.97L700.4 385.03L702.4 385.09L704.4 385.14L706.4 385.2L708.4 385.26L710.4 385.32L712.4 385.37L714.4 385.43L716.4 385.49L718.4 385.55L720.4 385.61L722.4 385.66L724.4 385.72L726.4 385.78L728.4 385.84L730.4 385.89L732.4 385.95L734.4 386.01L736.4 386.07L738.4 386.13L740.4 386.18L742.4 386.24L744.4 386.3L746.4 386.36L748.4 386.41L750.4 386.47L752.4 386.53L754.4 386.59L756.4 386.64L758.39 386.7L760.39 386.76L762.39 386.82L764.39 386.87L766.39 386.93L768.39 386.99L770.39 387.04L772.39 387.1L774.39 387.16L776.39 387.22L778.39 387.27L780.39 387.33L782.39 387.39L784.39 387.45L786.39 387.5L788.39 387.56L790.39 387.62L792.39 387.67L794.39 387.73L796.39 387.79L798.39 387.85L800.39 387.9L802.39 387.96L804.39 388.02L806.39 388.07L808.39 388.13L810.39 388.19L812.39 388.25L814.39 388.3L816.39 388.36L818.39 388.42L820.39 388.47L822.39 388.53L824.39 388.59L826.39 388.64L828.39 388.7L830.39 388.76L832.39 388.81L834.39 388.87L836.39 388.93L838.39 388.98L840.39 389.04L842.39 389.1L844.39 389.15L846.39 389.21L848.39 389.27L850.39 389.32L852.39 389.38L854.39 389.44L856.39 389.49L858.39 389.55L860.39 389.61L862.39 389.66L864.39 389.72L866.39 389.78L868.39 389.83L870.39 389.89L872.39 389.95L874.39 390L876.39 390.06L878.39 390.11L880.39 390.17L882.39 390.23L884.39 390.28L886.39 390.34L888.39 390.4L890.39 390.45L892.39 390.51L894.39 390.56L896.39 390.62L898.39 390.68L900.39 390.73L902.39 390.79L904.39 390.85L906.39 390.9L908.39 390.96L910.39 391.01L912.39 391.07L914.39 391.13L916.39 391.18L918.39 391.24L920.39 391.29L922.39 391.35L924.39 391.4L926.39 391.46L928.39 391.52L930.39 391.57L932.39 391.63L934.39 391.68L936.39 391.74L938.39 391.79L940.39 391.85L942.39 391.91L944.39 391.96L946.39 392.02L948.39 392.07L950.39 392.13L952.39 392.18L954.39 392.24L956.39 392.29L958.39 392.35L960.39 392.4L962.39 392.46L964.39 392.52L966.39 392.57L968.39 392.63L970.39 392.68L972.39 392.74L974.39 392.79L976.39 392.85L978.39 392.9L980.39 392.96L982.39 393.01L984.39 393.07L986.39 393.12L988.39 393.18L990.39 393.23L992.39 393.29L994.39 393.34L996.39 393.4L998.39 393.45L1000.39 393.51L1002.39 393.56" fill="none" stroke="#222" stroke-width="1.3" stroke-dasharray="18.2 6.7"/>
<rect x="572.85" y="290.1" width="443.75" height="191.3" fill="none" stroke="#111" stroke-width="1.35"/>
<path d="M616.76 481.4v-4.8M616.76 290.1v4.8M661.22 481.4v-4.8M661.22 290.1v4.8M705.68 481.4v-4.8M705.68 290.1v4.8M750.14 481.4v-4.8M750.14 290.1v4.8M794.6 481.4v-4.8M794.6 290.1v4.8M839.06 481.4v-4.8M839.06 290.1v4.8M883.52 481.4v-4.8M883.52 290.1v4.8M927.98 481.4v-4.8M927.98 290.1v4.8M972.44 481.4v-4.8M972.44 290.1v4.8M572.85 338h4.8M1016.6 338h-4.8M572.85 385.8h4.8M1016.6 385.8h-4.8M572.85 433.6h4.8M1016.6 433.6h-4.8" stroke="#111" stroke-width="1.1" fill="none"/>
<path d="M785.5 259.35V270.8M783 259.85H788M783 270.3H788M782.5 261.2L788.5 261.2L790.5 263.67L790.5 266.13L788.5 268.6L782.5 268.6L780.5 266.13L780.5 263.67Z" fill="none" stroke="#1a1a1a" stroke-width="1"/>
<path d="M793.64 272.04L794.52 270.7H797.16L798.04 271.54V273.56L793.64 277.76V278.26H798.04M800.41 272.04L801.29 270.7H803.93L804.81 271.54V273.56L800.41 277.76V278.26H804.81" fill="none" stroke="#1a1a1a" stroke-width="1.09" stroke-linecap="square"/>
<path d="M38.05 243.21H39.4M45.05 236.8V246.25M45.05 236.8L42.95 239.01M75.11 243.21H76.46M80.11 236.8H83.11L84.11 237.85V245.2L83.11 246.25H80.11L79.11 245.2V237.85ZM87.31 246.25H87.46M91.91 236.8H94.51L95.51 237.85V239.74L94.51 240.79H91.91L90.91 239.74V237.85ZM91.71 240.79H94.71L95.71 241.84V245.2L94.71 246.25H91.71L90.71 245.2V241.84ZM119.57 243.21H120.92M124.57 236.8H127.57L128.57 237.85V245.2L127.57 246.25H124.57L123.57 245.2V237.85ZM131.77 246.25H131.92M140.17 237.85L139.17 236.8H136.17L135.17 237.85V245.2L136.17 246.25H139.17L140.17 245.2V242.26L139.17 241.21H135.17M164.03 243.21H165.38M169.03 236.8H172.03L173.03 237.85V245.2L172.03 246.25H169.03L168.03 245.2V237.85ZM176.23 246.25H176.38M183.63 246.25V236.8L179.63 244.15H184.63M208.49 243.21H209.84M213.49 236.8H216.49L217.49 237.85V245.2L216.49 246.25H213.49L212.49 245.2V237.85ZM220.69 246.25H220.84M224.09 238.48L225.09 236.8H228.09L229.09 237.85V240.37L224.09 245.62V246.25H229.09M264.5 236.8H267.5L268.5 237.85V245.2L267.5 246.25H264.5L263.5 245.2V237.85ZM302.21 236.8H305.21L306.21 237.85V245.2L305.21 246.25H302.21L301.21 245.2V237.85ZM309.41 246.25H309.56M312.81 238.48L313.81 236.8H316.81L317.81 237.85V240.37L312.81 245.62V246.25H317.81M346.67 236.8H349.67L350.67 237.85V245.2L349.67 246.25H346.67L345.67 245.2V237.85ZM353.87 246.25H354.02M361.27 246.25V236.8L357.27 244.15H362.27M391.13 236.8H394.13L395.13 237.85V245.2L394.13 246.25H391.13L390.13 245.2V237.85ZM398.33 246.25H398.48M406.73 237.85L405.73 236.8H402.73L401.73 237.85V245.2L402.73 246.25H405.73L406.73 245.2V242.26L405.73 241.21H401.73M435.59 236.8H438.59L439.59 237.85V245.2L438.59 246.25H435.59L434.59 245.2V237.85ZM442.79 246.25H442.94M447.39 236.8H449.99L450.99 237.85V239.74L449.99 240.79H447.39L446.39 239.74V237.85ZM447.19 240.79H450.19L451.19 241.84V245.2L450.19 246.25H447.19L446.19 245.2V241.84ZM33.38 33.13H36.38L37.38 34.18V41.53L36.38 42.58H33.38L32.38 41.53V34.18ZM9.08 78.05H10.43M14.08 71.64H17.08L18.08 72.69V80.04L17.08 81.09H14.08L13.08 80.04V72.69ZM21.28 81.09H21.43M25.68 71.64H28.68L29.68 72.69V80.04L28.68 81.09H25.68L24.68 80.04V72.69ZM32.38 73.32L33.38 71.64H36.38L37.38 72.69V75.21L32.38 80.46V81.09H37.38M9.08 116.56H10.43M14.08 110.16H17.08L18.08 111.21V118.56L17.08 119.61H14.08L13.08 118.56V111.21ZM21.28 119.61H21.43M25.68 110.16H28.68L29.68 111.21V118.56L28.68 119.61H25.68L24.68 118.56V111.21ZM36.38 119.61V110.16L32.38 117.51H37.38M9.08 155.08H10.43M14.08 148.67H17.08L18.08 149.72V157.07L17.08 158.12H14.08L13.08 157.07V149.72ZM21.28 158.12H21.43M25.68 148.67H28.68L29.68 149.72V157.07L28.68 158.12H25.68L24.68 157.07V149.72ZM37.38 149.72L36.38 148.67H33.38L32.38 149.72V157.07L33.38 158.12H36.38L37.38 157.07V154.13L36.38 153.08H32.38M9.08 193.59H10.43M14.08 187.19H17.08L18.08 188.24V195.59L17.08 196.64H14.08L13.08 195.59V188.24ZM21.28 196.64H21.43M25.68 187.19H28.68L29.68 188.24V195.59L28.68 196.64H25.68L24.68 195.59V188.24ZM33.58 187.19H36.17L37.17 188.24V190.13L36.17 191.18H33.58L32.58 190.13V188.24ZM33.38 191.18H36.38L37.38 192.23V195.59L36.38 196.64H33.38L32.38 195.59V192.23ZM566 243.1H567.35M573 236.7V246.15M573 236.7L570.9 238.91M603.06 243.1H604.41M608.06 236.7H611.06L612.06 237.75V245.1L611.06 246.15H608.06L607.06 245.1V237.75ZM615.26 246.15H615.41M619.86 236.7H622.46L623.46 237.75V239.64L622.46 240.69H619.86L618.86 239.64V237.75ZM619.66 240.69H622.66L623.66 241.74V245.1L622.66 246.15H619.66L618.66 245.1V241.74ZM647.52 243.1H648.87M652.52 236.7H655.52L656.52 237.75V245.1L655.52 246.15H652.52L651.52 245.1V237.75ZM659.72 246.15H659.87M668.12 237.75L667.12 236.7H664.12L663.12 237.75V245.1L664.12 246.15H667.12L668.12 245.1V242.16L667.12 241.11H663.12M691.98 243.1H693.33M696.98 236.7H699.98L700.98 237.75V245.1L699.98 246.15H696.98L695.98 245.1V237.75ZM704.18 246.15H704.33M711.58 246.15V236.7L707.58 244.05H712.58M736.44 243.1H737.79M741.44 236.7H744.44L745.44 237.75V245.1L744.44 246.15H741.44L740.44 245.1V237.75ZM748.64 246.15H748.79M752.04 238.38L753.04 236.7H756.04L757.04 237.75V240.27L752.04 245.52V246.15H757.04M792.45 236.7H795.45L796.45 237.75V245.1L795.45 246.15H792.45L791.45 245.1V237.75ZM830.16 236.7H833.16L834.16 237.75V245.1L833.16 246.15H830.16L829.16 245.1V237.75ZM837.36 246.15H837.51M840.76 238.38L841.76 236.7H844.76L845.76 237.75V240.27L840.76 245.52V246.15H845.76M874.62 236.7H877.62L878.62 237.75V245.1L877.62 246.15H874.62L873.62 245.1V237.75ZM881.82 246.15H881.97M889.22 246.15V236.7L885.22 244.05H890.22M919.08 236.7H922.08L923.08 237.75V245.1L922.08 246.15H919.08L918.08 245.1V237.75ZM926.28 246.15H926.43M934.68 237.75L933.68 236.7H930.68L929.68 237.75V245.1L930.68 246.15H933.68L934.68 245.1V242.16L933.68 241.11H929.68M963.54 236.7H966.54L967.54 237.75V245.1L966.54 246.15H963.54L962.54 245.1V237.75ZM970.74 246.15H970.89M975.34 236.7H977.94L978.94 237.75V239.64L977.94 240.69H975.34L974.34 239.64V237.75ZM975.14 240.69H978.14L979.14 241.74V245.1L978.14 246.15H975.14L974.14 245.1V241.74ZM1016.55 236.7V246.15M1016.55 236.7L1014.45 238.91M542.93 33.4H545.93L546.93 34.45V41.8L545.93 42.85H542.93L541.93 41.8V34.45ZM550.13 42.85H550.28M554.53 33.4H557.53L558.53 34.45V41.8L557.53 42.85H554.53L553.53 41.8V34.45ZM561.23 35.08L562.23 33.4H565.23L566.23 34.45V36.97L561.23 42.22V42.85H566.23M542.93 81.2H545.93L546.93 82.25V89.6L545.93 90.65H542.93L541.93 89.6V82.25ZM550.13 90.65H550.28M554.53 81.2H557.53L558.53 82.25V89.6L557.53 90.65H554.53L553.53 89.6V82.25ZM564.23 81.2V90.65M564.23 81.2L562.13 83.41M562.23 129H565.23L566.23 130.05V137.4L565.23 138.45H562.23L561.23 137.4V130.05ZM537.93 183.21H539.27M542.93 176.8H545.93L546.93 177.85V185.2L545.93 186.25H542.93L541.93 185.2V177.85ZM550.13 186.25H550.28M554.53 176.8H557.53L558.53 177.85V185.2L557.53 186.25H554.53L553.53 185.2V177.85ZM564.23 176.8V186.25M564.23 176.8L562.13 179.01M537.93 231.81H539.27M542.93 225.4H545.93L546.93 226.45V233.8L545.93 234.85H542.93L541.93 233.8V226.45ZM550.13 234.85H550.28M554.53 225.4H557.53L558.53 226.45V233.8L557.53 234.85H554.53L553.53 233.8V226.45ZM561.23 227.08L562.23 225.4H565.23L566.23 226.45V228.97L561.23 234.22V234.85H566.23M36.15 492.8H37.5M43.15 486.4V495.85M43.15 486.4L41.05 488.6M73.2 492.8H74.55M78.2 486.4H81.2L82.2 487.45V494.8L81.2 495.85H78.2L77.2 494.8V487.45ZM85.4 495.85H85.55M90 486.4H92.6L93.6 487.45V489.34L92.6 490.39H90L89 489.34V487.45ZM89.8 490.39H92.8L93.8 491.44V494.8L92.8 495.85H89.8L88.8 494.8V491.44ZM117.65 492.8H119M122.65 486.4H125.65L126.65 487.45V494.8L125.65 495.85H122.65L121.65 494.8V487.45ZM129.85 495.85H130M138.25 487.45L137.25 486.4H134.25L133.25 487.45V494.8L134.25 495.85H137.25L138.25 494.8V491.86L137.25 490.81H133.25M162.1 492.8H163.45M167.1 486.4H170.1L171.1 487.45V494.8L170.1 495.85H167.1L166.1 494.8V487.45ZM174.3 495.85H174.45M181.7 495.85V486.4L177.7 493.75H182.7M206.55 492.8H207.9M211.55 486.4H214.55L215.55 487.45V494.8L214.55 495.85H211.55L210.55 494.8V487.45ZM218.75 495.85H218.9M222.15 488.08L223.15 486.4H226.15L227.15 487.45V489.97L222.15 495.22V495.85H227.15M262.55 486.4H265.55L266.55 487.45V494.8L265.55 495.85H262.55L261.55 494.8V487.45ZM300.25 486.4H303.25L304.25 487.45V494.8L303.25 495.85H300.25L299.25 494.8V487.45ZM307.45 495.85H307.6M310.85 488.08L311.85 486.4H314.85L315.85 487.45V489.97L310.85 495.22V495.85H315.85M344.7 486.4H347.7L348.7 487.45V494.8L347.7 495.85H344.7L343.7 494.8V487.45ZM351.9 495.85H352.05M359.3 495.85V486.4L355.3 493.75H360.3M389.15 486.4H392.15L393.15 487.45V494.8L392.15 495.85H389.15L388.15 494.8V487.45ZM396.35 495.85H396.5M404.75 487.45L403.75 486.4H400.75L399.75 487.45V494.8L400.75 495.85H403.75L404.75 494.8V491.86L403.75 490.81H399.75M433.6 486.4H436.6L437.6 487.45V494.8L436.6 495.85H433.6L432.6 494.8V487.45ZM440.8 495.85H440.95M445.4 486.4H448L449 487.45V489.34L448 490.39H445.4L444.4 489.34V487.45ZM445.2 490.39H448.2L449.2 491.44V494.8L448.2 495.85H445.2L444.2 494.8V491.44ZM486.6 486.4V495.85M486.6 486.4L484.5 488.6M13.03 282.85H16.03L17.03 283.9V291.25L16.03 292.3H13.03L12.03 291.25V283.9ZM20.23 292.3H20.38M24.63 282.85H27.63L28.63 283.9V291.25L27.63 292.3H24.63L23.63 291.25V283.9ZM35.33 292.3V282.85L31.33 290.2H36.33M13.03 330.7H16.03L17.03 331.75V339.1L16.03 340.15H13.03L12.03 339.1V331.75ZM20.23 340.15H20.38M24.63 330.7H27.63L28.63 331.75V339.1L27.63 340.15H24.63L23.63 339.1V331.75ZM31.33 332.38L32.33 330.7H35.33L36.33 331.75V334.27L31.33 339.52V340.15H36.33M32.33 378.55H35.33L36.33 379.6V386.95L35.33 388H32.33L31.33 386.95V379.6ZM8.03 432.81H9.38M13.03 426.4H16.03L17.03 427.45V434.8L16.03 435.85H13.03L12.03 434.8V427.45ZM20.23 435.85H20.38M24.63 426.4H27.63L28.63 427.45V434.8L27.63 435.85H24.63L23.63 434.8V427.45ZM31.33 428.08L32.33 426.4H35.33L36.33 427.45V429.97L31.33 435.22V435.85H36.33M8.03 481.5H9.38M13.03 475.1H16.03L17.03 476.15V483.5L16.03 484.55H13.03L12.03 483.5V476.15ZM20.23 484.55H20.38M24.63 475.1H27.63L28.63 476.15V483.5L27.63 484.55H24.63L23.63 483.5V476.15ZM35.33 484.55V475.1L31.33 482.45H36.33M566.2 493.8H567.55M573.2 487.4V496.85M573.2 487.4L571.1 489.6M603.26 493.8H604.61M608.26 487.4H611.26L612.26 488.45V495.8L611.26 496.85H608.26L607.26 495.8V488.45ZM615.46 496.85H615.61M620.06 487.4H622.66L623.66 488.45V490.34L622.66 491.39H620.06L619.06 490.34V488.45ZM619.86 491.39H622.86L623.86 492.44V495.8L622.86 496.85H619.86L618.86 495.8V492.44ZM647.72 493.8H649.07M652.72 487.4H655.72L656.72 488.45V495.8L655.72 496.85H652.72L651.72 495.8V488.45ZM659.92 496.85H660.07M668.32 488.45L667.32 487.4H664.32L663.32 488.45V495.8L664.32 496.85H667.32L668.32 495.8V492.86L667.32 491.81H663.32M692.18 493.8H693.53M697.18 487.4H700.18L701.18 488.45V495.8L700.18 496.85H697.18L696.18 495.8V488.45ZM704.38 496.85H704.53M711.78 496.85V487.4L707.78 494.75H712.78M736.64 493.8H737.99M741.64 487.4H744.64L745.64 488.45V495.8L744.64 496.85H741.64L740.64 495.8V488.45ZM748.84 496.85H748.99M752.24 489.08L753.24 487.4H756.24L757.24 488.45V490.97L752.24 496.22V496.85H757.24M792.65 487.4H795.65L796.65 488.45V495.8L795.65 496.85H792.65L791.65 495.8V488.45ZM830.36 487.4H833.36L834.36 488.45V495.8L833.36 496.85H830.36L829.36 495.8V488.45ZM837.56 496.85H837.71M840.96 489.08L841.96 487.4H844.96L845.96 488.45V490.97L840.96 496.22V496.85H845.96M874.82 487.4H877.82L878.82 488.45V495.8L877.82 496.85H874.82L873.82 495.8V488.45ZM882.02 496.85H882.17M889.42 496.85V487.4L885.42 494.75H890.42M919.28 487.4H922.28L923.28 488.45V495.8L922.28 496.85H919.28L918.28 495.8V488.45ZM926.48 496.85H926.63M934.88 488.45L933.88 487.4H930.88L929.88 488.45V495.8L930.88 496.85H933.88L934.88 495.8V492.86L933.88 491.81H929.88M963.74 487.4H966.74L967.74 488.45V495.8L966.74 496.85H963.74L962.74 495.8V488.45ZM970.94 496.85H971.09M975.54 487.4H978.14L979.14 488.45V490.34L978.14 491.39H975.54L974.54 490.34V488.45ZM975.34 491.39H978.34L979.34 492.44V495.8L978.34 496.85H975.34L974.34 495.8V492.44ZM1016.75 487.4V496.85M1016.75 487.4L1014.65 489.6M550.63 285H553.63L554.63 286.05V293.4L553.63 294.45H550.63L549.63 293.4V286.05ZM557.83 294.45H557.98M564.23 285V294.45M564.23 285L562.13 287.2M542.93 332.8H545.93L546.93 333.85V341.2L545.93 342.25H542.93L541.93 341.2V333.85ZM550.13 342.25H550.28M554.53 332.8H557.53L558.53 333.85V341.2L557.53 342.25H554.53L553.53 341.2V333.85ZM566.23 332.8H561.23V337.21H565.23L566.23 338.26V341.2L565.23 342.25H562.23L561.23 341.2M562.23 380.6H565.23L566.23 381.65V389L565.23 390.05H562.23L561.23 389V381.65ZM537.93 434.81H539.27M542.93 428.4H545.93L546.93 429.45V436.8L545.93 437.85H542.93L541.93 436.8V429.45ZM550.13 437.85H550.28M554.53 428.4H557.53L558.53 429.45V436.8L557.53 437.85H554.53L553.53 436.8V429.45ZM566.23 428.4H561.23V432.81H565.23L566.23 433.86V436.8L565.23 437.85H562.23L561.23 436.8M545.63 482.5H546.98M550.63 476.1H553.63L554.63 477.15V484.5L553.63 485.55H550.63L549.63 484.5V477.15ZM557.83 485.55H557.98M564.23 476.1V485.55M564.23 476.1L562.13 478.3" fill="none" stroke="#1a1a1a" stroke-width="1.15" stroke-linecap="square"/>
</svg></body></html>
